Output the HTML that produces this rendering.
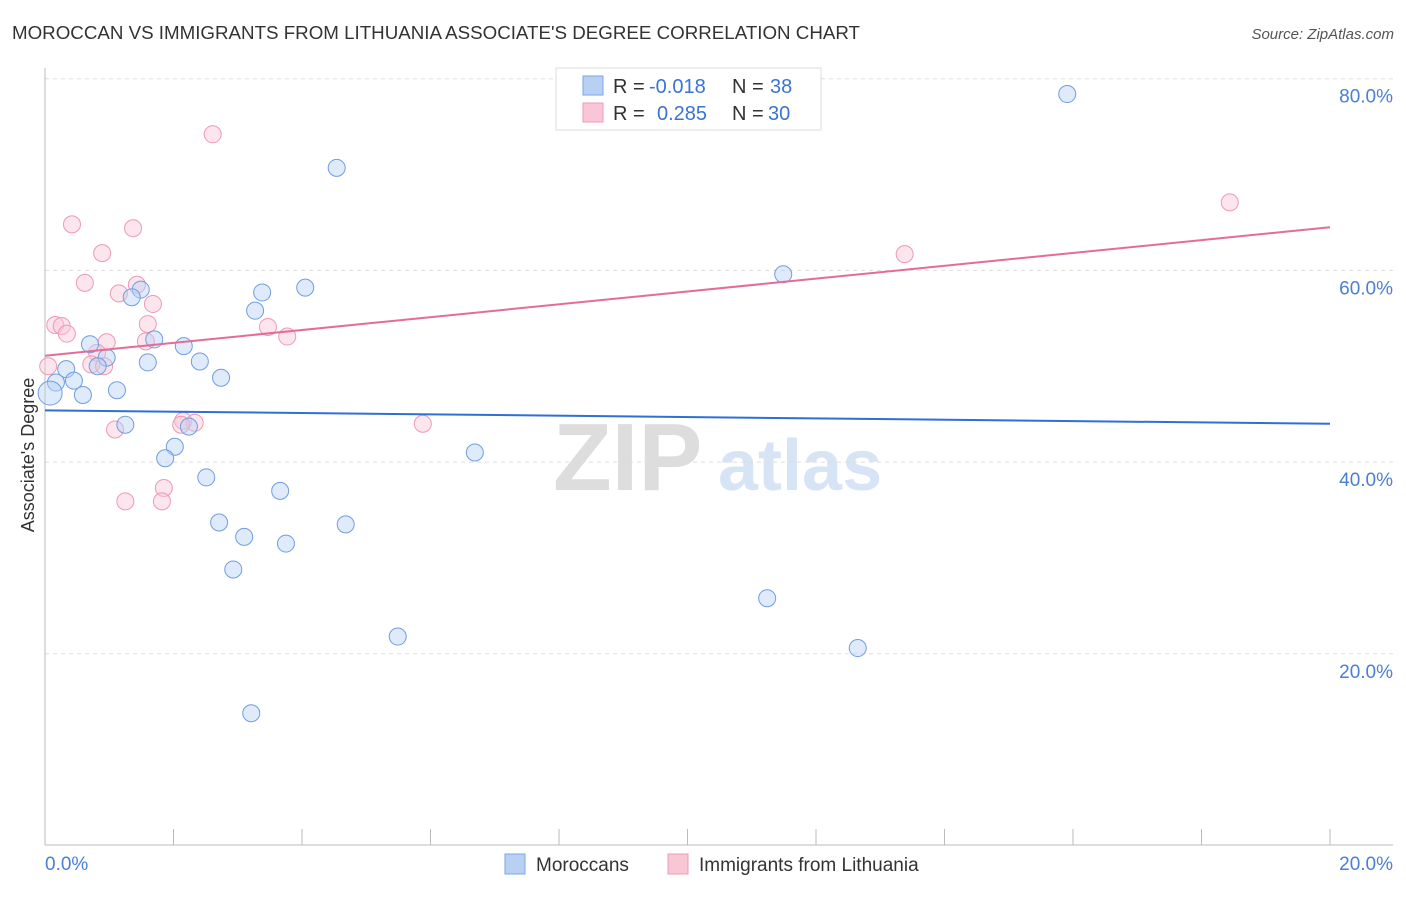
<!DOCTYPE html>
<html><head><meta charset="utf-8"><style>
body{margin:0;background:#fff;font-family:"Liberation Sans",sans-serif}
svg text{font-family:"Liberation Sans",sans-serif}
</style></head><body>
<svg id="chart" width="1406" height="892" viewBox="0 0 1406 892">
<text x="12" y="39" font-size="18" fill="#333" textLength="848" lengthAdjust="spacingAndGlyphs">MOROCCAN VS IMMIGRANTS FROM LITHUANIA ASSOCIATE'S DEGREE CORRELATION CHART</text>
<text x="1394" y="39" font-size="15" fill="#555" font-style="italic" text-anchor="end">Source: ZipAtlas.com</text>
<g>
<text x="553" y="490" font-size="96" fill="#ddd" font-family="Liberation Serif" font-weight="bold">ZIP</text>
<text x="718" y="490" font-size="72" fill="#d6e4f5" font-weight="bold">atlas</text>
</g>
<g id="grid"></g>
<line x1="45" y1="68" x2="45" y2="845" stroke="#bbb"/>
<line x1="45" y1="845" x2="1393" y2="845" stroke="#bbb"/>
<g id="xticks"></g>
<text x="45" y="870" font-size="19" fill="#4a7fd4">0.0%</text>
<text x="1393" y="870" font-size="19" fill="#4a7fd4" text-anchor="end">20.0%</text>
<text transform="translate(34,455) rotate(-90)" font-size="18" fill="#333" text-anchor="middle">Associate's Degree</text>
<g id="points"></g>
<g id="lines"></g>
<g>
<rect x="556" y="68" width="265" height="62" fill="#fff" stroke="#ddd"/>
<rect x="583" y="76" width="20" height="19" fill="#b8d1f3" stroke="#7aa6e6"/>
<rect x="583" y="103" width="20" height="19" fill="#f9c6d6" stroke="#ee99b5"/>
<text x="613" y="93" font-size="20" fill="#333">R =</text>
<text x="649" y="93" font-size="20" fill="#3a74d0">-0.018</text>
<text x="732" y="93" font-size="20" fill="#333">N =</text>
<text x="770" y="93" font-size="20" fill="#3a74d0">38</text>
<text x="613" y="120" font-size="20" fill="#333">R =</text>
<text x="657" y="120" font-size="20" fill="#3a74d0">0.285</text>
<text x="732" y="120" font-size="20" fill="#333">N =</text>
<text x="768" y="120" font-size="20" fill="#3a74d0">30</text>
</g>
<g>
<rect x="505" y="854" width="20" height="20" fill="#b8d1f3" stroke="#7aa6e6"/>
<text x="536" y="871" font-size="19" fill="#333">Moroccans</text>
<rect x="668" y="854" width="20" height="20" fill="#f9c6d6" stroke="#ee99b5"/>
<text x="699" y="871" font-size="19" fill="#333">Immigrants from Lithuania</text>
</g>
</svg>
<script>
const yTicks=[20,40,60,80];
const yTickLabels=["20.0%","40.0%","60.0%","80.0%"];
const xTickValues=[0,2,4,6,8,10,12,14,16,18,20];
const blueX=[15.91,4.54,11.49,4.05,3.38,1.49,1.35,3.27,1.70,0.70,2.16,0.96,1.60,2.41,0.82,0.33,0.45,0.17,2.74,1.12,0.59,0.08,1.25,2.24,2.02,1.87,6.69,2.51,3.66,2.71,4.68,3.10,3.75,2.93,11.24,5.49,12.65,3.21];
const blueY=[78.4,70.7,59.6,58.2,57.7,58.0,57.2,55.8,52.8,52.3,52.1,50.9,50.4,50.5,50.0,49.7,48.5,48.3,48.8,47.5,47.0,47.2,43.9,43.7,41.6,40.4,41.0,38.4,37.0,33.7,33.5,32.2,31.5,28.8,25.8,21.8,20.6,13.8];
const pinkX=[2.61,18.44,0.42,1.37,0.89,13.38,0.62,1.43,1.15,1.68,0.16,0.26,0.34,1.60,3.47,3.77,0.96,1.57,0.81,0.72,0.92,0.05,2.15,2.33,2.12,5.88,1.09,1.85,1.25,1.82];
const pinkY=[74.2,67.1,64.8,64.4,61.8,61.7,58.7,58.5,57.6,56.5,54.3,54.2,53.4,54.4,54.1,53.1,52.5,52.6,51.4,50.2,50.0,50.0,44.3,44.1,43.9,44.0,43.4,37.3,35.9,35.9];
const blueTrend=[45.4,44.0];
const pinkTrend=[51.1,64.5];
const NS="http://www.w3.org/2000/svg";
const xs=v=>45+v/20*1285;
const ys=v=>845.5-v/20*191.7;
function mk(tag,attrs,parent){const e=document.createElementNS(NS,tag);for(const k in attrs)e.setAttribute(k,attrs[k]);document.getElementById(parent).appendChild(e);return e;}
yTicks.forEach((t,i)=>{
 const l=mk('line',{x1:45,x2:1393,y1:ys(t),y2:ys(t),stroke:'#ddd','stroke-dasharray':'4,4'},'grid');
 
 
 const tx=mk('text',{x:1393,y:ys(t)+24,'font-size':19,fill:'#4a7fd4','text-anchor':'end'},'grid');
 tx.textContent=yTickLabels[i];
 
 
});
xTickValues.forEach(v=>{
 const l=mk('line',{x1:xs(v),x2:xs(v),y1:829,y2:845,stroke:'#bbb'},'xticks');
 
 
});
function pts(X,Y,fill,stroke,name){
 X.forEach((x,i)=>{
  const r=(name==='moroccan-point'&&i===21)?12:8.5;
  const c=mk('circle',{cx:xs(x),cy:ys(Y[i]),r:r,fill:fill,'fill-opacity':0.45,stroke:stroke,'stroke-width':1},'points');
  
  
 });
}
pts(pinkX,pinkY,'#f9c6d6','#ee99b5','lithuania-point');
pts(blueX,blueY,'#b8d1f3','#6f9ee2','moroccan-point');
const bl=mk('line',{x1:xs(0),y1:ys(blueTrend[0]),x2:xs(20),y2:ys(blueTrend[1]),stroke:'#2f6fd6','stroke-width':2},'lines');


const pl=mk('line',{x1:xs(0),y1:ys(pinkTrend[0]),x2:xs(20),y2:ys(pinkTrend[1]),stroke:'#e46c96','stroke-width':2},'lines');


</script>
</body></html>
